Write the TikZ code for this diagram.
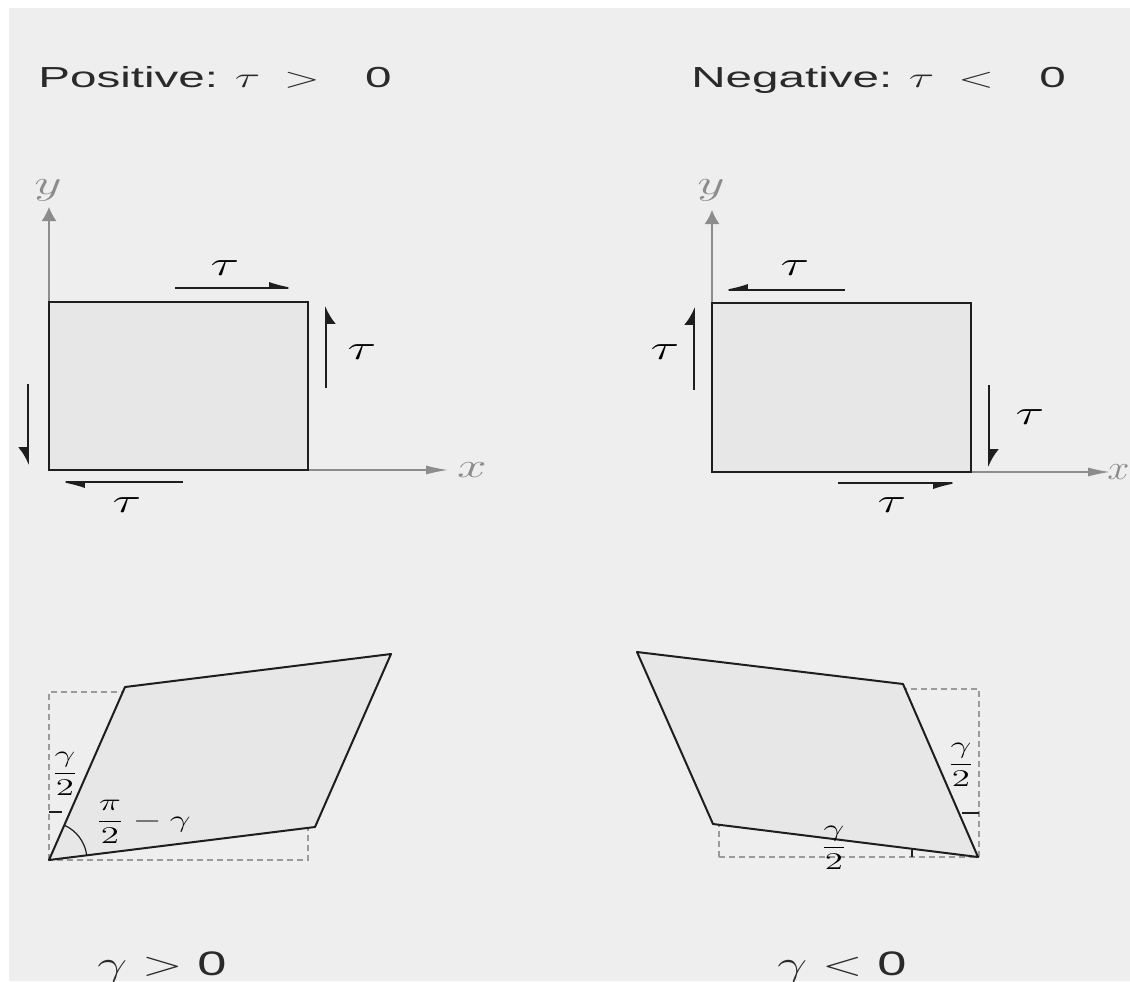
\documentclass[tikz,border=0pt]{standalone}
\usepackage{fontspec}
\setmainfont{Liberation Sans}
\usepackage{graphicx}
\usetikzlibrary{arrows.meta}
\definecolor{bg}{HTML}{EEEEEE}
\definecolor{boxfill}{HTML}{E7E7E7}
\definecolor{axisgray}{HTML}{8C8C8C}
\definecolor{dashgray}{HTML}{9A9A9A}
\definecolor{ink}{HTML}{1E1E1E}
\definecolor{titleink}{HTML}{2A2A2A}
\newcommand{\wide}[1]{\scalebox{1.54}[1]{#1}}
\newcommand{\widetitle}[1]{\scalebox{1.64}[1]{#1}}
\begin{document}
\begin{tikzpicture}[x=0.5pt,y=-0.5pt,
  title/.style={anchor=base west, inner sep=0, text=titleink, font=\fontsize{14.5}{16}\selectfont},
  lab/.style={inner sep=0, font=\fontsize{16}{18}\selectfont},
  fraclab/.style={inner sep=0, font=\fontsize{12.5}{15}\selectfont},
  biglab/.style={anchor=base west, inner sep=0, text=titleink, font=\fontsize{17}{19}\selectfont},
  axislab/.style={inner sep=0, text=axisgray, font=\fontsize{16}{18}\selectfont},
  block/.style={draw=ink, fill=boxfill, line width=1pt},
  axisline/.style={draw=axisgray, line width=0.65pt},
  yaxis/.style={axisline, -{Latex[length=7pt,width=7.5pt]}},
  xaxis/.style={axisline, -{Latex[length=11pt,width=4.5pt]}},
  shearHl/.style={draw=ink, line width=0.8pt, -{Latex[harpoon,length=12pt,width=6pt]}},
  shearHr/.style={draw=ink, line width=0.8pt, -{Latex[harpoon,swap,length=12pt,width=6pt]}},
  shearVl/.style={draw=ink, line width=0.8pt, -{Latex[harpoon,length=8pt,width=10pt]}},
  shearVr/.style={draw=ink, line width=0.8pt, -{Latex[harpoon,swap,length=8pt,width=10pt]}},
  guide/.style={draw=dashgray, line width=0.7pt, dash pattern=on 3pt off 2pt},
  rhomb/.style={draw=ink, fill=boxfill, line width=1pt, line join=round},
  tick/.style={draw=ink, line width=0.6pt}
]
% background
\fill[white] (0,0) rectangle (1130,981);
\fill[bg] (9,8) rectangle (1130,981);
\useasboundingbox (0,0) rectangle (1130,981);

% titles
\node[title] (tpos) at (38,87) {\widetitle{Positive:\hspace{0.35em}$\tau$\hspace{0.5em}$>$\hspace{0.95em}0}};
\node[title] (tneg) at (691,87) {\widetitle{Negative:\hspace{0.35em}$\tau$\hspace{0.5em}$<$\hspace{0.95em}0}};

% ---------- positive element ----------
\coordinate (P1) at (49,470);
\coordinate (P2) at (308,470);
\coordinate (P3) at (308,302);
\coordinate (P4) at (49,302);
\coordinate (PyT) at (49,207);
\coordinate (PxT) at (448,470);
\draw[yaxis] (P4) -- (PyT);
\draw[xaxis] (P2) -- (PxT);
\node[axislab] (Py) at (48,190) {\wide{$y$}};
\node[axislab] (Px) at (472,470) {\wide{$x$}};
\path[block] (P1) rectangle (P3);

\coordinate (Pa1) at (175,288); \coordinate (Pa2) at (298,288);
\coordinate (Pb1) at (326,388); \coordinate (Pb2) at (326,306);
\coordinate (Pc1) at (28,384);  \coordinate (Pc2) at (28,465);
\coordinate (Pd1) at (183,482); \coordinate (Pd2) at (56,482);
\draw[shearHl] (Pa1) -- (Pa2);
\draw[shearVr] (Pb1) -- (Pb2);
\draw[shearVr] (Pc1) -- (Pc2);
\draw[shearHl] (Pd1) -- (Pd2);
\node[lab] (Pta) at (225,268) {\wide{$\tau$}};
\node[lab] (Ptb) at (362,352) {\wide{$\tau$}};
\node[lab] (Ptd) at (127,505) {\wide{$\tau$}};

% ---------- negative element ----------
\coordinate (N1) at (712,472);
\coordinate (N2) at (971,472);
\coordinate (N3) at (971,303);
\coordinate (N4) at (712,303);
\coordinate (NyT) at (712,210);
\coordinate (NxT) at (1110,472);
\draw[yaxis] (N4) -- (NyT);
\draw[xaxis] (N2) -- (NxT);
\node[axislab] (Ny) at (711,190) {\wide{$y$}};
\node[axislab, anchor=east] (Nx) at (1130,472) {\scalebox{1.15}[1]{$x$}};
\path[block] (N1) rectangle (N3);

\coordinate (Na1) at (845,290); \coordinate (Na2) at (719,290);
\coordinate (Nb1) at (694,390); \coordinate (Nb2) at (694,307);
\coordinate (Nc1) at (989,385); \coordinate (Nc2) at (989,467);
\coordinate (Nd1) at (838,483); \coordinate (Nd2) at (962,483);
\draw[shearHr] (Na1) -- (Na2);
\draw[shearVl] (Nb1) -- (Nb2);
\draw[shearVl] (Nc1) -- (Nc2);
\draw[shearHr] (Nd1) -- (Nd2);
\node[lab] (Nta) at (795,268) {\wide{$\tau$}};
\node[lab] (Ntb) at (665,352) {\wide{$\tau$}};
\node[lab] (Ntc) at (1030,417) {\wide{$\tau$}};
\node[lab] (Ntd) at (892,505) {\wide{$\tau$}};

% ---------- positive shear strain ----------
\coordinate (A) at (49,860);
\coordinate (B) at (125,687);
\coordinate (C) at (391,654);
\coordinate (D) at (315,827);
\draw[guide] (A) rectangle (308,692);
\path[rhomb] (A) -- (B) -- (C) -- (D) -- cycle;
\coordinate (At1) at (49,812);
\coordinate (At2) at (62,812);
\draw[tick] (At1) -- (At2);
\draw[tick] ([shift={(7.1:19pt)}]A) arc[start angle=7.1, end angle=66.4, radius=19pt];
\node[fraclab] (Ag) at (65,774) {\wide{$\displaystyle\frac{\gamma}{2}$}};
\node[fraclab, anchor=west] (Aang) at (95,822) {\wide{$\displaystyle\frac{\pi}{2}-\gamma$}};

% ---------- negative shear strain ----------
\coordinate (E) at (637,652);
\coordinate (F) at (903,684);
\coordinate (G) at (978,857);
\coordinate (H) at (713,824);
\draw[guide] (719,857) rectangle (979,689);
\path[rhomb] (E) -- (F) -- (G) -- (H) -- cycle;
\coordinate (Gt1) at (962,813); \coordinate (Gt2) at (979,813);
\coordinate (Gt3) at (912,850); \coordinate (Gt4) at (912,857);
\draw[tick] (Gt1) -- (Gt2);
\draw[tick] (Gt3) -- (Gt4);
\node[fraclab] (Gg1) at (961,765) {\wide{$\displaystyle\frac{\gamma}{2}$}};
\node[fraclab] (Gg2) at (834,848) {\wide{$\displaystyle\frac{\gamma}{2}$}};

% bottom labels
\node[biglab] (gpos) at (97,975) {\wide{$\gamma > \mbox{0}$}};
\node[biglab] (gneg) at (777,975) {\wide{$\gamma < \mbox{0}$}};
\end{tikzpicture}
\end{document}
